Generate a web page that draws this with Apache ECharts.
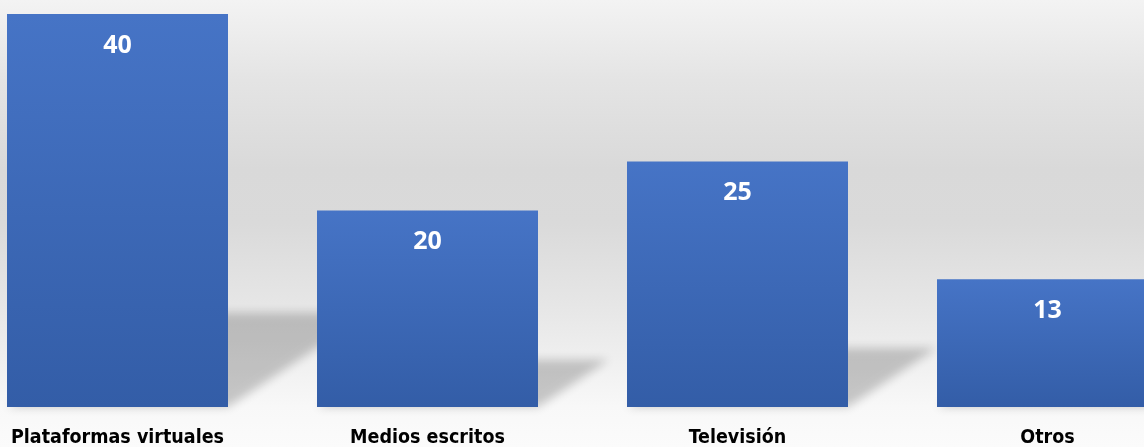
<!DOCTYPE html>
<html>
<head>
<meta charset="utf-8">
<script src="https://cdn.jsdelivr.net/npm/echarts@6/dist/echarts.min.js"></script>
<style>
  html, body { margin: 0; padding: 0; }
  #chart {
    width: 1144px; height: 447px;
    background: linear-gradient(to bottom,
      #f3f3f3 0%, #e4e4e4 18%, #d9d9d9 38%, #dadada 50%,
      #e6e6e6 68%, #efefef 80%, #f8f8f8 91%, #fbfbfb 100%);
  }
</style>
</head>
<body>
<div id="chart"></div>
<script>
// Categories and counts
const categories = ['Plataformas virtuales', 'Medios escritos', 'Televisión', 'Otros'];
const values = [40, 20, 25, 13];

const BAR_WIDTH = 221;
const SHADOW_DEPTH = 0.24;   // floor shadow height relative to bar height
const SHADOW_SKEW = 1.5;     // horizontal run per unit of shadow height
const FAR = 3000;            // shape is drawn off-canvas, only its blurred shadow shows

const chart = echarts.init(document.getElementById('chart'), null, { renderer: 'canvas' });

chart.setOption({
  backgroundColor: 'transparent',
  animation: false,
  grid: {
    left: -37.5, right: -58.5, top: 14, bottom: 40,
    containLabel: false,
    outerBoundsMode: 'none'
  },
  xAxis: {
    type: 'category',
    data: categories,
    axisLine: { show: false },
    axisTick: { show: false },
    axisLabel: {
      interval: 0,
      hideOverlap: false,
      margin: 21,
      color: '#000',
      fontFamily: '"Liberation Sans Narrow", "DejaVu Sans Condensed", "Noto Sans", sans-serif',
      fontWeight: 'bold',
      fontSize: 19.5
    }
  },
  yAxis: {
    type: 'value',
    min: 0, max: 40,
    show: false,
    splitLine: { show: false }
  },
  series: [
    {
      // soft perspective shadow cast on the floor to the right of each bar
      type: 'custom',
      z: 1,
      silent: true,
      data: values.map((v, i) => [i, v]),
      renderItem: function (params, api) {
        const base = api.coord([api.value(0), 0]);
        const top = api.coord([api.value(0), api.value(1)]);
        const h = base[1] - top[1];
        const ext = h * SHADOW_DEPTH;
        const run = ext * SHADOW_SKEW;
        const x0 = base[0] - BAR_WIDTH / 2;
        const x1 = base[0] + BAR_WIDTH / 2;
        return {
          type: 'polygon',
          shape: {
            points: [
              [x0 - FAR, base[1]],
              [x1 - FAR, base[1]],
              [x1 + run - FAR, base[1] - ext],
              [x0 + run - FAR, base[1] - ext]
            ]
          },
          style: {
            fill: '#000',
            shadowColor: 'rgba(0,0,0,0.2)',
            shadowBlur: 10,
            shadowOffsetX: FAR
          }
        };
      }
    },
    {
      type: 'bar',
      z: 2,
      data: values,
      barWidth: BAR_WIDTH,
      itemStyle: {
        color: {
          type: 'linear', x: 0, y: 0, x2: 0, y2: 1,
          colorStops: [
            { offset: 0, color: '#4674c6' },
            { offset: 1, color: '#335da7' }
          ]
        }
      },
      label: {
        show: true,
        position: 'insideTop',
        distance: 19,
        color: '#fff',
        fontFamily: '"Open Sans", "Noto Sans", sans-serif',
        fontWeight: 'bold',
        fontSize: 25
      }
    }
  ]
});
</script>
</body>
</html>
